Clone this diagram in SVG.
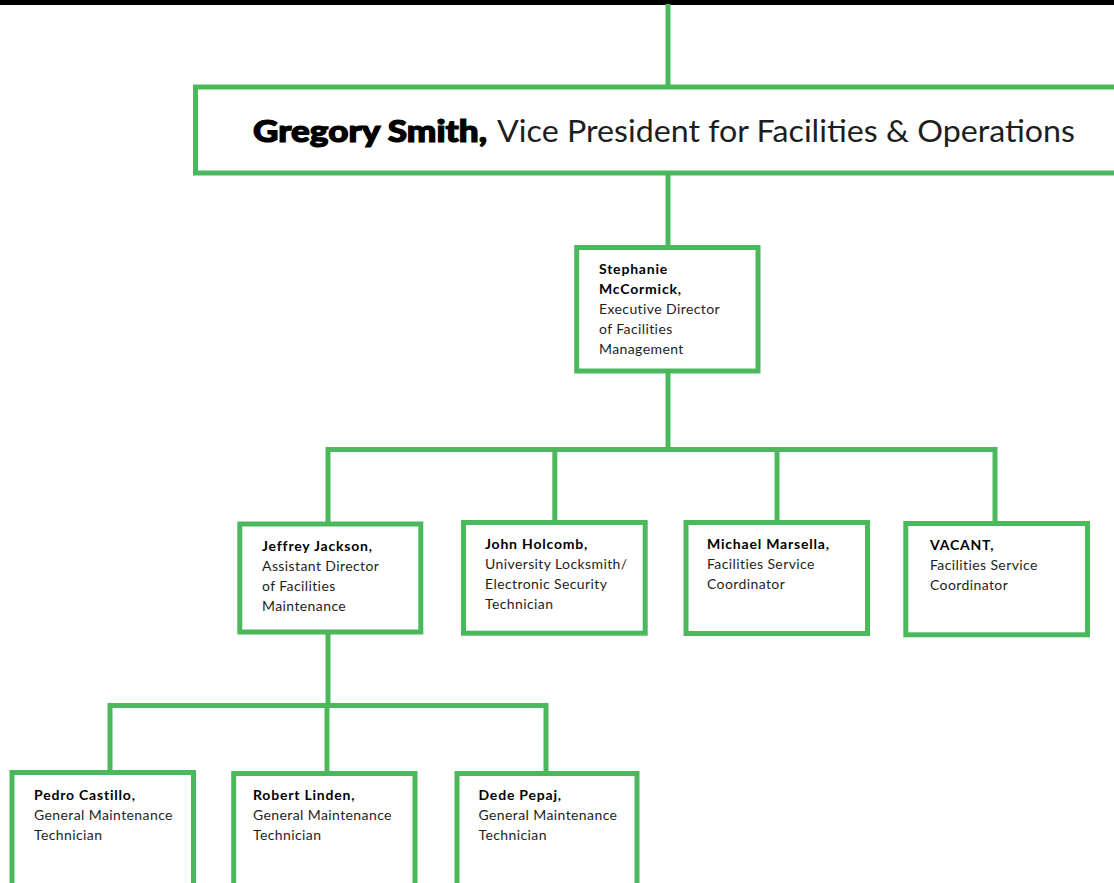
<svg xmlns="http://www.w3.org/2000/svg" width="1114" height="883" viewBox="0 0 1114 883">
  <style>
    .box { fill: #ffffff; stroke: #4cb85c; stroke-width: 5; }
    .conn { fill: none; stroke: #4cb85c; stroke-width: 5; stroke-linejoin: miter; }
    .t { font-family: Lato, "Liberation Sans", sans-serif; font-size: 14px; fill: #1e1e1e; letter-spacing: 0.4px; }
    .b { font-weight: 700; fill: #000; letter-spacing: 0.8px; }
    .vp { font-family: Lato, "Liberation Sans", sans-serif; font-size: 30px; fill: #1e1e1e; }
    .vpb { font-weight: 900; fill: #000; stroke: #000; stroke-width: 1.2px; }
  </style>
  <rect x="0" y="0" width="1114" height="5" fill="#000"/>
  <g id="connectors">
    <path class="conn" d="M668,4 V86"/>
    <path class="conn" d="M668,174 V247"/>
    <path class="conn" d="M668,372 V449.5"/>
    <path class="conn" d="M328,522 V449.5 H995 V522"/>
    <path class="conn" d="M554.8,449.5 V521"/>
    <path class="conn" d="M777,449.5 V521"/>
    <path class="conn" d="M328,633 V705.5"/>
    <path class="conn" d="M110,771 V705.5 H546 V772"/>
    <path class="conn" d="M327,705.5 V772"/>
  </g>
  <g id="vp">
    <rect class="box" x="195.5" y="87" width="1000" height="86"/>
    <text class="vp vpb" x="253" y="142" textLength="234" lengthAdjust="spacingAndGlyphs">Gregory Smith,</text>
    <text class="vp" x="497" y="142" textLength="578" lengthAdjust="spacingAndGlyphs">Vice President for Facilities &amp; Operations</text>
  </g>
  <g id="mccormick">
    <rect class="box" x="576.7" y="247.5" width="181.3" height="123.5"/>
    <text class="t">
      <tspan class="b" x="599" y="274">Stephanie</tspan>
      <tspan class="b" x="599" y="294">McCormick,</tspan>
      <tspan x="599" y="314">Executive Director</tspan>
      <tspan x="599" y="334">of Facilities</tspan>
      <tspan x="599" y="354">Management</tspan>
    </text>
  </g>
  <g id="jackson">
    <rect class="box" x="239.8" y="524" width="181" height="108"/>
    <text class="t">
      <tspan class="b" x="262" y="551">Jeffrey Jackson,</tspan>
      <tspan x="262" y="571">Assistant Director</tspan>
      <tspan x="262" y="591">of Facilities</tspan>
      <tspan x="262" y="611">Maintenance</tspan>
    </text>
  </g>
  <g id="holcomb">
    <rect class="box" x="463.5" y="522.5" width="181.7" height="110.7"/>
    <text class="t">
      <tspan class="b" x="485" y="549">John Holcomb,</tspan>
      <tspan x="485" y="569">University Locksmith/</tspan>
      <tspan x="485" y="589">Electronic Security</tspan>
      <tspan x="485" y="609">Technician</tspan>
    </text>
  </g>
  <g id="marsella">
    <rect class="box" x="686" y="522.5" width="181.5" height="111"/>
    <text class="t">
      <tspan class="b" x="707" y="549">Michael Marsella,</tspan>
      <tspan x="707" y="569">Facilities Service</tspan>
      <tspan x="707" y="589">Coordinator</tspan>
    </text>
  </g>
  <g id="vacant">
    <rect class="box" x="905.8" y="523.5" width="181.7" height="111.3"/>
    <text class="t">
      <tspan class="b" x="930" y="550">VACANT,</tspan>
      <tspan x="930" y="570">Facilities Service</tspan>
      <tspan x="930" y="590">Coordinator</tspan>
    </text>
  </g>
  <g id="castillo">
    <rect class="box" x="12" y="772.5" width="181.5" height="200"/>
    <text class="t">
      <tspan class="b" x="34" y="800">Pedro Castillo,</tspan>
      <tspan x="34" y="820">General Maintenance</tspan>
      <tspan x="34" y="840">Technician</tspan>
    </text>
  </g>
  <g id="linden">
    <rect class="box" x="233.7" y="773.5" width="181.3" height="200"/>
    <text class="t">
      <tspan class="b" x="253" y="800">Robert Linden,</tspan>
      <tspan x="253" y="820">General Maintenance</tspan>
      <tspan x="253" y="840">Technician</tspan>
    </text>
  </g>
  <g id="pepaj">
    <rect class="box" x="457" y="773.5" width="180" height="200"/>
    <text class="t">
      <tspan class="b" x="478.5" y="800">Dede Pepaj,</tspan>
      <tspan x="478.5" y="820">General Maintenance</tspan>
      <tspan x="478.5" y="840">Technician</tspan>
    </text>
  </g>
</svg>
